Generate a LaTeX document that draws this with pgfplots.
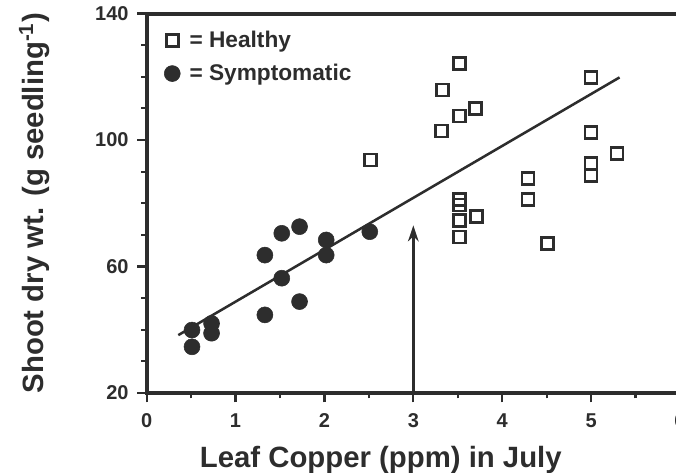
\documentclass[border=0pt]{standalone}
\usepackage{fontspec}
\setmainfont{Liberation Sans}
\usepackage{pgfplots}
\pgfplotsset{compat=1.18}
\usetikzlibrary{arrows.meta}
\definecolor{ink}{RGB}{45,45,45}
\begin{document}
\begin{tikzpicture}
\begin{axis}[
  scale only axis,
  width=400pt, height=284.6pt,
  xmin=0, xmax=6, ymin=20, ymax=140,
  xtick={0,1,2,3,4,5,6},
  ytick={20,60,100,140},
  minor x tick num=1,
  minor y tick num=3,
  tick align=outside,
  xtick pos=bottom, ytick pos=left,
  major tick length=7pt,
  minor tick length=4pt,
  every tick/.style={ink, line width=1.6pt},
  axis line style={ink, line width=3pt},
  /pgf/number format/assume math mode=true,
  ticklabel style={font=\fontsize{15}{18}\selectfont\bfseries, text=ink},
  xticklabel style={yshift=-5pt},
  yticklabel style={xshift=-3pt},
  xlabel={Leaf Copper (ppm) in July},
  ylabel={Shoot dry wt. (g seedling\textsuperscript{-1})},
  label style={font=\fontsize{22}{26}\selectfont\bfseries, text=ink},
  xlabel style={at={(axis description cs:0.439,-0.197)}, anchor=base},
  ylabel style={at={(axis description cs:-0.211,0.5)}, anchor=center, rotate=0},
  legend style={at={(axis description cs:0.025,0.968)}, anchor=north west,
    draw=none, fill=none, font=\fontsize{17}{20}\selectfont\bfseries,
    text=ink, row sep=7pt},
  legend cell align=left,
  clip=false,
]
\addplot[only marks, mark=square, mark size=4.5pt, mark options={line width=2pt, ink, fill=white}]
 coordinates {
(2.52,93.7) (3.33,115.8) (3.52,124.3) (3.70,110.0) (3.52,107.6) (3.32,102.9)
(3.52,81.2) (3.52,79.5) (3.52,74.6) (3.52,69.3) (3.71,75.9)
(4.29,87.9) (4.29,81.2) (4.51,67.3)
(5.00,119.7) (5.00,102.4) (5.00,92.6) (5.00,88.7) (5.29,95.8)
};
\addlegendentry{\hspace{5pt}= Healthy}
\addplot[only marks, mark=*, mark size=6pt, mark options={ink, fill=ink, line width=0.4pt}]
 coordinates {
(0.51,39.9) (0.51,34.6) (0.73,42.0) (0.73,38.9)
(1.33,63.6) (1.33,44.7) (1.52,56.3) (1.52,70.5)
(1.72,72.6) (1.72,48.9) (2.02,68.4) (2.02,63.6) (2.51,71.0)
};
\addlegendentry{\hspace{5pt}= Symptomatic}
\addplot[ink, line width=1.9pt, forget plot] coordinates {(0.356,38.3) (5.32,119.8)};
\addplot[ink, line width=1.8pt, -{Stealth[length=12pt,width=8pt]}, forget plot] coordinates {(3,20) (3,73)};
\end{axis}
\pgfresetboundingbox
\useasboundingbox (-110pt,-60pt) rectangle (397pt,294.75pt);
\end{tikzpicture}
\end{document}
